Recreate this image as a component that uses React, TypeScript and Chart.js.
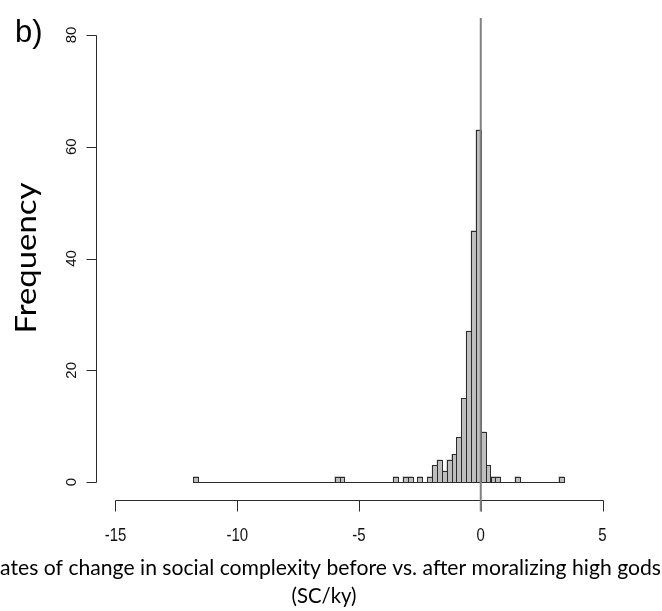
import React, { useEffect, useRef } from "react";
import { Chart, registerables } from "chart.js";

Chart.register(...registerables);

// Histogram bins (left edges, width 0.2) and their counts (non-empty bins only)
const binLeft = [-11.8, -6.0, -5.8, -3.6, -3.2, -3.0, -2.6, -2.2, -2.0, -1.8, -1.6, -1.4, -1.2, -1.0, -0.8, -0.6, -0.4, -0.2, 0.0, 0.2, 0.4, 0.6, 1.4, 3.2];
const freq = [1, 1, 1, 1, 1, 1, 1, 1, 3, 4, 2, 4, 5, 8, 15, 27, 45, 63, 9, 3, 1, 1, 1, 1];
const binWidth = 0.2;
const histRange = [-11.8, 3.4];
const xTicks = [-15, -10, -5, 0, 5];
const yTicks = [0, 20, 40, 60, 80];
const refLine = 0;
const panelLabel = "b)";
const yTitle = "Frequency";
const xTitle = ["Rates of change in social complexity before vs. after moralizing high gods", "(SC/ky)"];

const xSpan = xTicks[xTicks.length - 1] - xTicks[0];
const ySpan = yTicks[yTicks.length - 1] - yTicks[0];
const xMin = xTicks[0] - 0.04 * xSpan;
const xMax = xTicks[xTicks.length - 1] + 0.04 * xSpan;
const yMin = yTicks[0] - 0.04 * ySpan;
const yMax = yTicks[yTicks.length - 1] + 0.04 * ySpan;

const AXIS = "#2b2b2b";
const TEXT = "#111";

const rPlot = {
  id: "rPlot",
  afterDatasetsDraw(chart: any) {
    const { ctx } = chart;
    const xs = chart.scales.x;
    const ys = chart.scales.y;
    const meta = chart.getDatasetMeta(0);
    ctx.save();
    ctx.strokeStyle = AXIS;
    ctx.lineWidth = 1;
    meta.data.forEach((bar: any) => {
      const { x, y, base, width } = bar.getProps(["x", "y", "base", "width"], true);
      const l = Math.round(x - width / 2) + 0.5;
      const r = Math.round(x + width / 2) + 0.5;
      const t = Math.round(y) + 0.5;
      const b = Math.round(base) + 0.5;
      ctx.strokeRect(l, t, r - l, b - t);
    });
    const y0 = Math.round(ys.getPixelForValue(0)) + 0.5;
    ctx.beginPath();
    ctx.moveTo(Math.round(xs.getPixelForValue(histRange[0])) + 0.5, y0);
    ctx.lineTo(Math.round(xs.getPixelForValue(histRange[1])) + 0.5, y0);
    ctx.stroke();
    ctx.restore();
  },
  afterDraw(chart: any) {
    const { ctx, chartArea } = chart;
    const xs = chart.scales.x;
    const ys = chart.scales.y;
    ctx.save();
    ctx.strokeStyle = AXIS;
    ctx.lineWidth = 1;

    // x axis
    const yAx = Math.round(chartArea.bottom) + 0.5;
    const tickLen = 11;
    ctx.beginPath();
    ctx.moveTo(Math.round(xs.getPixelForValue(xTicks[0])) + 0.5, yAx);
    ctx.lineTo(Math.round(xs.getPixelForValue(xTicks[xTicks.length - 1])) + 0.5, yAx);
    xTicks.forEach((v) => {
      const px = Math.round(xs.getPixelForValue(v)) + 0.5;
      ctx.moveTo(px, yAx);
      ctx.lineTo(px, yAx + tickLen);
    });
    ctx.stroke();

    ctx.fillStyle = TEXT;
    ctx.font = '15px "Liberation Sans", Arial, sans-serif';
    ctx.textAlign = "center";
    ctx.textBaseline = "alphabetic";
    xTicks.forEach((v) => {
      const px = xs.getPixelForValue(v);
      ctx.save();
      ctx.translate(px, yAx + 40);
      ctx.scale(1, 1.18);
      ctx.fillText(String(v), 0, 0);
      ctx.restore();
    });

    // y axis
    const xAx = Math.round(chartArea.left) + 0.5;
    ctx.beginPath();
    ctx.moveTo(xAx, Math.round(ys.getPixelForValue(yTicks[0])) + 0.5);
    ctx.lineTo(xAx, Math.round(ys.getPixelForValue(yTicks[yTicks.length - 1])) + 0.5);
    yTicks.forEach((v) => {
      const py = Math.round(ys.getPixelForValue(v)) + 0.5;
      ctx.moveTo(xAx, py);
      ctx.lineTo(xAx - 10, py);
    });
    ctx.stroke();
    yTicks.forEach((v) => {
      const py = ys.getPixelForValue(v);
      ctx.save();
      ctx.translate(xAx - 21, py);
      ctx.rotate(-Math.PI / 2);
      ctx.fillText(String(v), 0, 0);
      ctx.restore();
    });

    // reference line
    ctx.strokeStyle = "#808080";
    ctx.lineWidth = 2;
    const xr = xs.getPixelForValue(refLine);
    ctx.beginPath();
    ctx.moveTo(xr, chartArea.top + 1);
    ctx.lineTo(xr, yAx + tickLen);
    ctx.stroke();

    // panel label
    ctx.fillStyle = "#000";
    ctx.textAlign = "left";
    ctx.font = '31px "Liberation Sans", Arial, sans-serif';
    ctx.fillText(panelLabel, 15, 41.5);

    // y title
    ctx.font = '29px Lato, "Open Sans", sans-serif';
    ctx.textAlign = "center";
    {
      const w = ctx.measureText(yTitle).width;
      ctx.save();
      ctx.translate(36, 258);
      ctx.rotate(-Math.PI / 2);
      ctx.scale(151 / w, 1);
      ctx.fillText(yTitle, 0, 0);
      ctx.restore();
    }

    // x title
    ctx.font = '22px Lato, "Open Sans", sans-serif';
    const targets = [674, 65];
    const baselines = [575, 603];
    xTitle.forEach((line, i) => {
      const w = ctx.measureText(line).width;
      ctx.save();
      ctx.translate(324, baselines[i]);
      ctx.scale(targets[i] / w, 1);
      ctx.fillText(line, 0, 0);
      ctx.restore();
    });

    ctx.restore();
  },
};

export default function App() {
  const ref = useRef<HTMLCanvasElement | null>(null);
  useEffect(() => {
    if (!ref.current) return;
    const data = binLeft.map((l, i) => ({ x: l + binWidth / 2, y: freq[i] }));
    const chart = new Chart(ref.current, {
      type: "bar",
      data: {
        datasets: [
          {
            data: data as any,
            backgroundColor: "#BEBEBE",
            borderWidth: 0,
            barPercentage: 1,
            categoryPercentage: 1,
          },
        ],
      },
      options: {
        responsive: false,
        animation: false,
        devicePixelRatio: 1,
        events: [],
        layout: { padding: { left: 96, right: 40, top: 17, bottom: 111 } },
        plugins: { legend: { display: false }, tooltip: { enabled: false } },
        scales: {
          x: { type: "linear", min: xMin, max: xMax, offset: false, display: false },
          y: { type: "linear", min: yMin, max: yMax, display: false },
        },
      },
      plugins: [rPlot as any],
    });
    return () => chart.destroy();
  }, []);
  return (
    <div style={{ position: "absolute", left: 0, top: 0, width: 662, height: 611, background: "#fff" }}>
      <canvas ref={ref} width={662} height={611} style={{ display: "block" }} />
    </div>
  );
}
